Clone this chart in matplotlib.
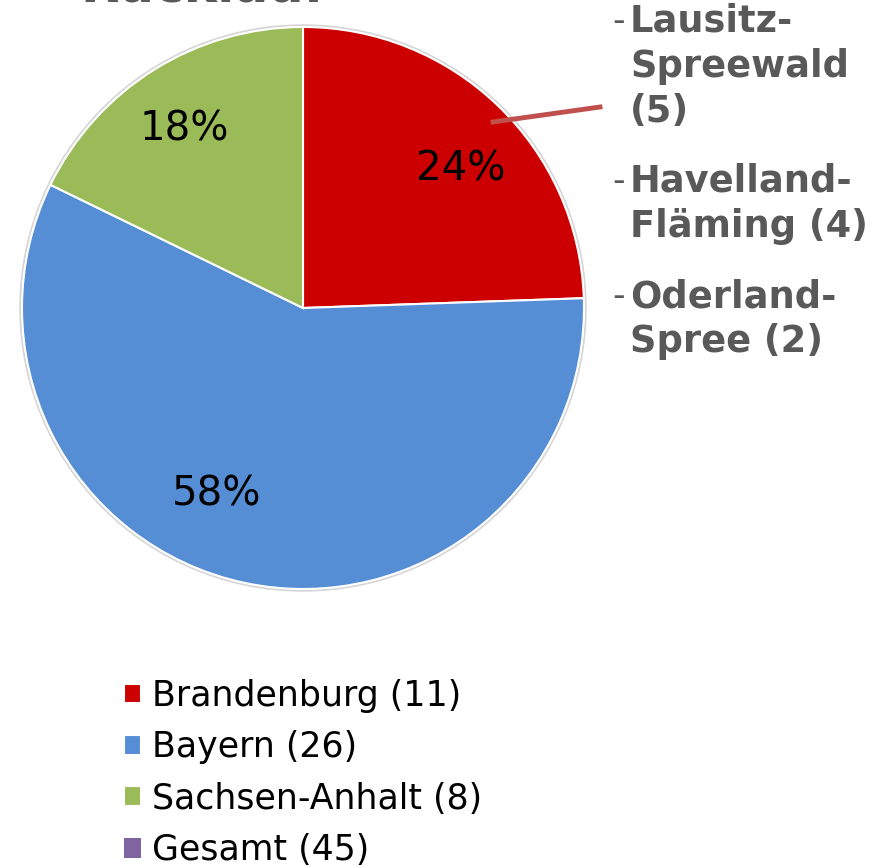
import matplotlib.pyplot as plt
from matplotlib.patches import Patch, Circle

# data
laender = ["Brandenburg", "Bayern", "Sachsen-Anhalt"]
anzahl = [11, 26, 8]
gesamt_label = "Gesamt"
gesamt = 45
farben = ["#CC0000", "#558ED5", "#9BBB59"]
gesamt_farbe = "#8064A2"
regionen = ["Lausitz-\nSpreewald\n(5)", "Havelland-\nFläming (4)", "Oderland-\nSpree (2)"]

W, H = 882, 867
fig = plt.figure(figsize=(W / 100, H / 100), dpi=100)
plt.rcParams['font.family'] = ['DejaVu Sans']

# pie axes: center (303, 308) px, radius 281 px, with a little room for the outline
cx, cy, r = 303, 308, 281
pad = 1.01
ra = r * pad
ax = fig.add_axes([(cx - ra) / W, (H - cy - ra) / H, 2 * ra / W, 2 * ra / H])
ax.add_patch(Circle((0, 0), 1.006, fill=False, edgecolor="#D6D6D6", linewidth=1.5, zorder=0))
wedges, texts, autotexts = ax.pie(
    anzahl, colors=farben, startangle=90, counterclock=False,
    autopct=lambda p: f"{p:.0f}%", pctdistance=0.75,
    wedgeprops=dict(edgecolor="white", linewidth=1.5),
    textprops=dict(fontsize=29, color="black"))
ax.set_xlim(-pad, pad)
ax.set_ylim(-pad, pad)
ax.set_aspect("auto")
ax.axis("off")

# small nudges so the percentages sit like in the original
nudge = [(0.04, -0.045), (-0.15, 0.07), (-0.025, 0.0)]
for t, (dx, dy) in zip(autotexts, nudge):
    x, y = t.get_position()
    t.set_position((x + dx, y + dy))

# legend
handles = list(wedges) + [Patch(facecolor=gesamt_farbe)]
labels = [f"{l} ({n})" for l, n in zip(laender, anzahl)] + [f"{gesamt_label} ({gesamt})"]
fig.legend(handles, labels, loc="upper left", bbox_to_anchor=(110 / W, 1 - 665 / H),
           frameon=False, fontsize=25, handlelength=0.5, handleheight=0.5,
           handletextpad=0.3, labelspacing=0.5, borderaxespad=0)

# cut-off title
fig.text(203 / W, 1 - 1 / H, "Rücklauf", fontsize=36, fontweight="bold",
         color="#595959", ha="center", va="baseline")

# region labels on the right
grau = "#595959"
ys = [3, 163, 278]
for y, t in zip(ys, regionen):
    fig.text(612 / W, 1 - (y + 18) / H, "-", fontsize=25, color=grau, va="center")
    fig.text(630 / W, 1 - y / H, t, fontsize=26.5, fontweight="bold", color=grau,
             va="top", linespacing=1.27)

# connector line
fig.add_artist(plt.Line2D([493 / W, 600 / W], [1 - 122 / H, 1 - 107 / H],
                          color="#C0504D", linewidth=3.5))

fig.savefig("out.png", dpi=100)
